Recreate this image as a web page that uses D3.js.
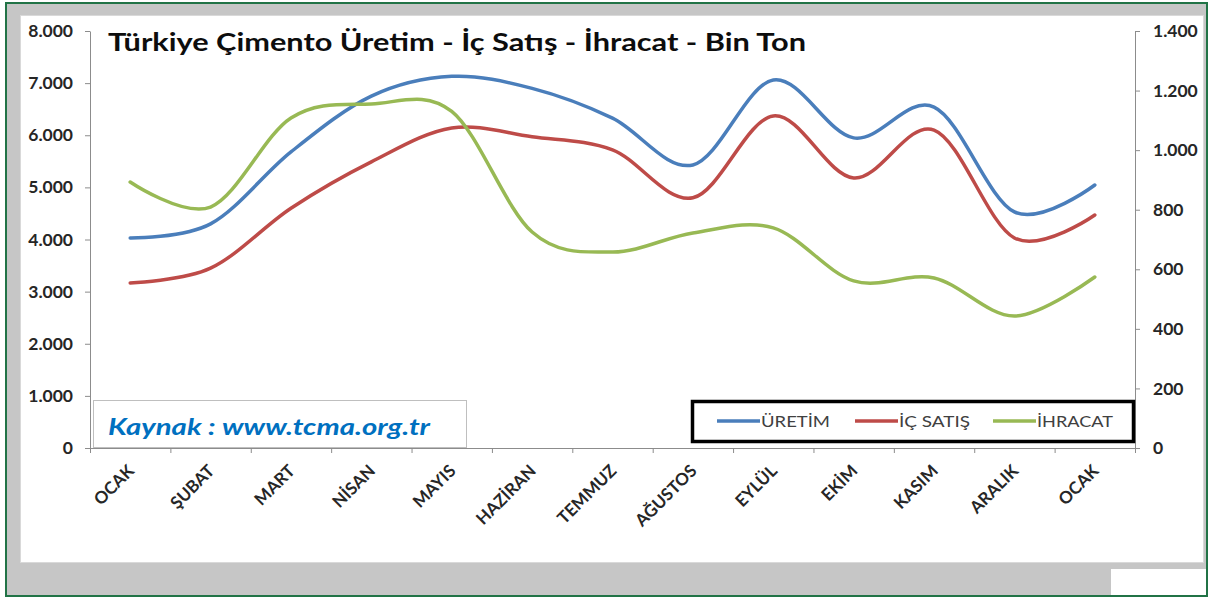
<!DOCTYPE html>
<html><head><meta charset="utf-8">
<script src="https://cdn.jsdelivr.net/npm/d3@7"></script>
<style>
body{margin:0;background:#fff}
svg{display:block}
text{font-family:Lato,'Open Sans',sans-serif}
</style>
</head><body>
<svg id="c" width="1211" height="600"></svg>
<script>
// ---- data ----
const categories = ["OCAK","ŞUBAT","MART","NİSAN","MAYIS","HAZİRAN","TEMMUZ","AĞUSTOS","EYLÜL","EKİM","KASIM","ARALIK","OCAK"];
const uretim   = [4030,4300,5680,6750,7130,6900,6330,5430,7060,5950,6540,4530,5045];
const icSatis  = [3165,3450,4600,5490,6140,5970,5720,4800,6370,5180,6100,4030,4470];
const ihracat  = [893,809,1108,1155,1130,725,658,722,739,561,571,443,574];
const leftTicks  = [0,1000,2000,3000,4000,5000,6000,7000,8000];
const rightTicks = [0,200,400,600,800,1000,1200,1400];
const seriesNames = ["ÜRETİM","İÇ SATIŞ","İHRACAT"];
const seriesColors = ["#4A7EBB","#BE4B48","#98B954"];
const titleText = "Türkiye Çimento Üretim - İç Satış - İhracat - Bin Ton";
const sourceText = "Kaynak : www.tcma.org.tr";

const svg = d3.select("#c");
const fmt = d3.formatLocale({decimal:",",thousands:".",grouping:[3],currency:["",""]}).format(",");

// ---- frame ----
svg.append("rect").attr("x",6).attr("y",3).attr("width",1201).attr("height",593)
  .attr("fill","#c6c6c6").attr("stroke","#217346").attr("stroke-width",2);
svg.append("rect").attr("x",20.5).attr("y",15.5).attr("width",1183).attr("height",547)
  .attr("fill","#fff").attr("stroke","#d9d9d9").attr("stroke-width",1);
svg.append("rect").attr("x",1111).attr("y",569).attr("width",95).attr("height",26).attr("fill","#fff");

// ---- scales ----
const L = 90, R = 1135, T = 31, B = 448;
const idx = d3.range(categories.length);
const x = d3.scaleBand().domain(idx).range([L,R]).padding(0);
const xEdge = d3.scaleLinear().domain([0,categories.length]).range([L,R]);
const yL = d3.scaleLinear().domain([0,8000]).range([B,T]);
const yR = d3.scaleLinear().domain([0,1400]).range([B,T]);

// ---- axes ----
const axisColor = "#8c8c8c";
const gL = svg.append("g").attr("transform",`translate(${L},0)`)
  .call(d3.axisLeft(yL).tickValues(leftTicks).tickSize(5).tickSizeOuter(0).tickPadding(12).tickFormat(fmt));
const gR = svg.append("g").attr("transform",`translate(${R},0)`)
  .call(d3.axisRight(yR).tickValues(rightTicks).tickSize(5).tickSizeOuter(0).tickPadding(13).tickFormat(fmt));
const gXt = svg.append("g").attr("transform",`translate(0,${B})`)
  .call(d3.axisBottom(xEdge).tickValues(d3.range(categories.length+1)).tickSize(5).tickSizeOuter(0).tickFormat(""));
[gL,gR,gXt].forEach(g=>{
  g.select(".domain").attr("stroke",axisColor);
  g.selectAll(".tick line").attr("stroke",axisColor);
  g.selectAll("text").attr("fill","#262626").style("font-family","Lato,'Open Sans',sans-serif")
    .style("font-size","17.5px").style("font-weight","700");
});

// x labels
const gX = svg.append("g").attr("transform",`translate(0,${B})`)
  .call(d3.axisBottom(x).tickSize(0).tickFormat(i=>categories[i]));
gX.select(".domain").remove();
gX.selectAll("text")
  .attr("fill","#262626").style("font-family","Lato,'Open Sans',sans-serif")
  .style("font-size","17px").style("font-weight","700")
  .attr("text-anchor","end").attr("y",0).attr("dy","0")
  .attr("transform","translate(5,24) rotate(-45)");

// ---- source box ----
svg.append("rect").attr("x",93.5).attr("y",400.5).attr("width",373).attr("height",47)
  .attr("fill","#fff").attr("stroke","#bfbfbf").attr("stroke-width",1);
svg.append("text").attr("x",108).attr("y",435).text(sourceText)
  .attr("fill","#0070C0").style("font-size","22px").style("font-weight","700").style("font-style","italic")
  .attr("textLength",322).attr("lengthAdjust","spacingAndGlyphs");

// ---- lines ----
const curve = d3.curveCardinal.tension(0);
const cx = i => x(i) + x.bandwidth()/2;
const lineL = d3.line().x((d,i)=>cx(i)).y(d=>yL(d)).curve(curve);
const lineR = d3.line().x((d,i)=>cx(i)).y(d=>yR(d)).curve(curve);
svg.append("path").attr("d",lineL(uretim)).attr("fill","none").attr("stroke",seriesColors[0]).attr("stroke-width",3.5).attr("stroke-linecap","round");
svg.append("path").attr("d",lineL(icSatis)).attr("fill","none").attr("stroke",seriesColors[1]).attr("stroke-width",3.5).attr("stroke-linecap","round");
svg.append("path").attr("d",lineR(ihracat)).attr("fill","none").attr("stroke",seriesColors[2]).attr("stroke-width",3.5).attr("stroke-linecap","round");

// ---- title ----
svg.append("text").attr("x",108).attr("y",51).text(titleText)
  .attr("fill","#0d0d0d").style("font-size","25.5px").style("font-weight","700")
  .attr("textLength",698).attr("lengthAdjust","spacingAndGlyphs");

// ---- legend ----
svg.append("rect").attr("x",692.5).attr("y",401.5).attr("width",441).attr("height",40)
  .attr("fill","#fff").attr("stroke","#000").attr("stroke-width",3.5);
const legX = [717,855,993];
const legW = [69,71,76];
seriesNames.forEach((n,i)=>{
  svg.append("line").attr("x1",legX[i]).attr("x2",legX[i]+43).attr("y1",421).attr("y2",421)
    .attr("stroke",seriesColors[i]).attr("stroke-width",3.5);
  svg.append("text").attr("x",legX[i]+44).attr("y",427).text(n)
    .attr("fill","#404040").style("font-size","16px")
    .attr("textLength",legW[i]).attr("lengthAdjust","spacingAndGlyphs");
});
</script>
</body></html>
